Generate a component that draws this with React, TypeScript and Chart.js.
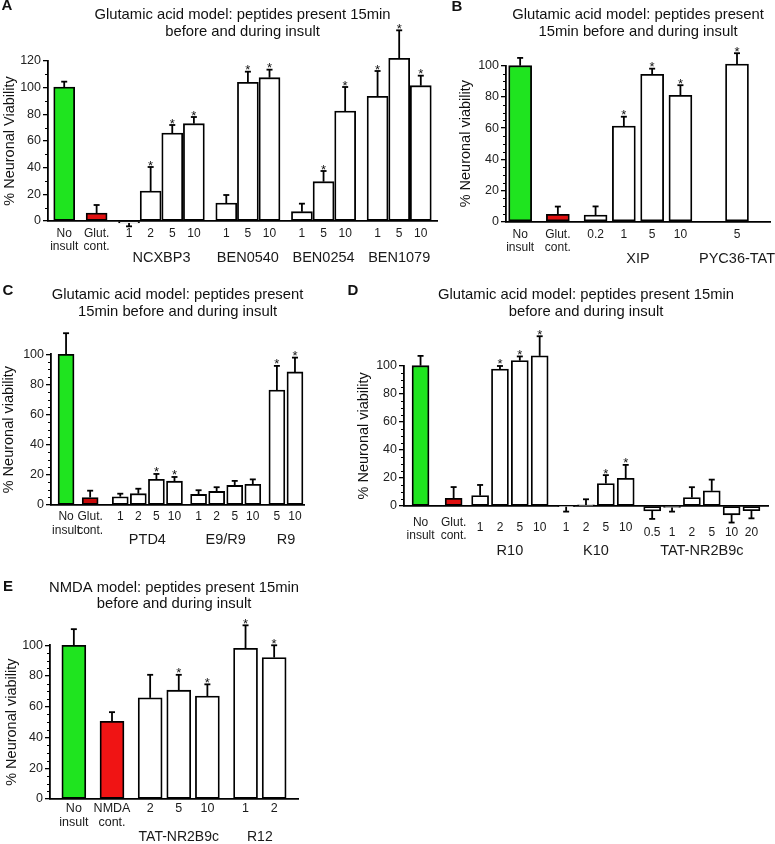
import React, { useEffect, useRef } from "react";
import { Chart, registerables } from "chart.js";
Chart.register(...registerables);

const FONT = '"Liberation Sans", Arial, Helvetica, sans-serif';

// ---------------- Panel A ----------------
const A_GROUP_NAMES = ["", "", "NCXBP3", "BEN0540", "BEN0254", "BEN1079"];
const A_GROUP_SIZES = [1, 1, 4, 3, 3, 3];
const A_TICKS = ["No\ninsult", "Glut.\ncont.", "1", "2", "5", "10", "1", "5", "10", "1", "5", "10", "1", "5", "10"];
const A_VALUES = [100.5, 6, -1.5, 22.5, 66, 73, 13.5, 104, 107.5, 7, 29.5, 82.5, 93.5, 122, 101.5];
const A_ERRORS = [4, 6, 2.5, 18, 6, 5, 6, 8, 6, 6, 8, 18, 19, 21, 7.5];
const A_STARS = [0, 0, 0, 1, 1, 1, 0, 1, 1, 0, 1, 1, 1, 1, 1];

// ---------------- Panel B ----------------
const B_GROUP_NAMES = ["", "", "XIP", "PYC36-TAT"];
const B_GROUP_SIZES = [1, 1, 4, 1];
const B_TICKS = ["No\ninsult", "Glut.\ncont.", "0.2", "1", "5", "10", "5"];
const B_VALUES = [100, 4.7, 4.3, 61.3, 94.5, 81, 101];
const B_ERRORS = [5, 5, 5.5, 6, 3.6, 6.5, 7];
const B_STARS = [0, 0, 0, 1, 1, 1, 1];

// ---------------- Panel C ----------------
const C_GROUP_NAMES = ["", "", "PTD4", "E9/R9", "R9"];
const C_GROUP_SIZES = [1, 1, 4, 4, 2];
const C_TICKS = ["No\ninsult", "Glut.\ncont.", "1", "2", "5", "10", "1", "2", "5", "10", "5", "10"];
const C_VALUES = [100, 5, 5.5, 7.5, 17, 15.8, 7, 9, 13, 13.7, 76.3, 88.3];
const C_ERRORS = [14, 4.5, 2, 3.3, 3.6, 2.8, 2.8, 2.8, 3, 3.3, 16, 9.5];
const C_STARS = [0, 0, 0, 0, 1, 1, 0, 0, 0, 0, 1, 1];

// ---------------- Panel D ----------------
const D_GROUP_NAMES = ["", "", "R10", "K10", "TAT-NR2B9c"];
const D_GROUP_SIZES = [1, 1, 4, 4, 6];
const D_TICKS = ["No\ninsult", "Glut.\ncont.", "1", "2", "5", "10", "1", "2", "5", "10", "0.5", "1", "2", "5", "10", "20"];
const D_VALUES = [100, 5.5, 7.4, 97.6, 103.6, 107, -0.5, 0.8, 16, 19.8, -3.5, -1, 6, 10.8, -6.3, -3.3];
const D_ERRORS = [7, 8, 7.6, 2.2, 3, 14, 3.5, 4, 6, 9.5, 5.7, 3, 7.4, 8, 5.5, 5.5];
const D_STARS = [0, 0, 0, 1, 1, 1, 0, 0, 1, 1, 0, 0, 0, 0, 0, 0];

// ---------------- Panel E ----------------
const E_GROUP_NAMES = ["", "", "TAT-NR2B9c", "R12"];
const E_GROUP_SIZES = [1, 1, 3, 2];
const E_TICKS = ["No\ninsult", "NMDA\ncont.", "2", "5", "10", "1", "2"];
const E_VALUES = [100, 50.5, 65.8, 70.8, 67, 98, 92];
const E_ERRORS = [10.5, 6, 15, 10, 7.6, 15, 8];
const E_STARS = [0, 0, 0, 1, 1, 1, 1];

const TITLE_GLU_A = ["Glutamic acid model: peptides present 15min", "before and during insult"];
const TITLE_GLU_B = ["Glutamic acid model: peptides present", "15min before and during insult"];
const TITLE_NMDA = ["NMDA model: peptides present 15min", "before and during insult"];

type PanelData = {
  groupNames: string[];
  groupSizes: number[];
  ticks: string[];
  values: number[];
  errors: number[];
  stars: number[];
};

type PanelLayout = {
  letter: string;
  letterPos: [number, number];
  title: string[];
  titleY: number[];
  yTitle: string;
  yTitleX: number;
  x0: number;
  x1: number;
  yTop: number;
  yBottom: number;
  yMax: number;
  major: number;
  minor: number;
  lead: number;
  step: number;
  gaps: number[];
  slots: number;
  barW: number;
  red: string;
  l1: number;
  l2: number;
  lg: number;
  tickDy: number[];
  tickFont: number;
  groupFont: number;
};

const PANELS: { data: PanelData; layout: PanelLayout }[] = [
  {
    data: { groupNames: A_GROUP_NAMES, groupSizes: A_GROUP_SIZES, ticks: A_TICKS, values: A_VALUES, errors: A_ERRORS, stars: A_STARS },
    layout: {
      letter: "A", letterPos: [7, 6], title: TITLE_GLU_A, titleY: [15, 32],
      yTitle: "% Neuronal Viability", yTitleX: 10,
      x0: 48, x1: 437, yTop: 61, yBottom: 221, yMax: 120, major: 20, minor: 10,
      lead: 1, step: 2, gaps: [3, 3, 3, 3, 3], slots: 36, barW: 21, red: "#e01010",
      l1: 13, l2: 26, lg: 37, tickDy: [0, 0, 0, 0, 0, 0], tickFont: 12, groupFont: 14.5,
    },
  },
  {
    data: { groupNames: B_GROUP_NAMES, groupSizes: B_GROUP_SIZES, ticks: B_TICKS, values: B_VALUES, errors: B_ERRORS, stars: B_STARS },
    layout: {
      letter: "B", letterPos: [457, 7], title: TITLE_GLU_B, titleY: [15, 32],
      yTitle: "% Neuronal viability", yTitleX: 466,
      x0: 506, x1: 770, yTop: 65.7, yBottom: 221.7, yMax: 100, major: 20, minor: 5,
      lead: 1, step: 3, gaps: [4, 4, 6], slots: 28, barW: 23, red: "#e01010",
      l1: 13, l2: 26, lg: 37, tickDy: [0, 0, 0, 0], tickFont: 12, groupFont: 14.5,
    },
  },
  {
    data: { groupNames: C_GROUP_NAMES, groupSizes: C_GROUP_SIZES, ticks: C_TICKS, values: C_VALUES, errors: C_ERRORS, stars: C_STARS },
    layout: {
      letter: "C", letterPos: [8, 291], title: TITLE_GLU_B, titleY: [295, 312],
      yTitle: "% Neuronal viability", yTitleX: 9,
      x0: 51, x1: 304, yTop: 354.3, yBottom: 505, yMax: 100, major: 20, minor: 5,
      lead: 2, step: 3, gaps: [4, 5, 4, 4], slots: 42, barW: 16, red: "#c80a0a",
      l1: 12, l2: 26, lg: 35, tickDy: [0, 0, 0, 0, 0], tickFont: 12, groupFont: 14.5,
    },
  },
  {
    data: { groupNames: D_GROUP_NAMES, groupSizes: D_GROUP_SIZES, ticks: D_TICKS, values: D_VALUES, errors: D_ERRORS, stars: D_STARS },
    layout: {
      letter: "D", letterPos: [353, 291], title: TITLE_GLU_A, titleY: [295, 312],
      yTitle: "% Neuronal viability", yTitleX: 364,
      x0: 404, x1: 768, yTop: 365.7, yBottom: 506, yMax: 100, major: 20, minor: 5,
      lead: 2, step: 3, gaps: [5, 4, 4, 4], slots: 55, barW: 17, red: "#e01010",
      l1: 17, l2: 30, lg: 45, tickDy: [0, 0, 5, 5, 10], tickFont: 12, groupFont: 14.5,
    },
  },
  {
    data: { groupNames: E_GROUP_NAMES, groupSizes: E_GROUP_SIZES, ticks: E_TICKS, values: E_VALUES, errors: E_ERRORS, stars: E_STARS },
    layout: {
      letter: "E", letterPos: [8, 587], title: TITLE_NMDA, titleY: [588, 604],
      yTitle: "% Neuronal viability", yTitleX: 12,
      x0: 50, x1: 298, yTop: 645.3, yBottom: 799, yMax: 100, major: 20, minor: 5,
      lead: 2, step: 3, gaps: [4, 4, 4], slots: 26, barW: 24, red: "#f01414",
      l1: 10, l2: 24, lg: 38, tickDy: [0, 0, 0, 0], tickFont: 12.5, groupFont: 14,
    },
  },
];

const W = 775;
const H = 844;
const Y_AXIS_W = 40;
const GREEN = "#1fe41f";

function PanelChart({ data, layout }: { data: PanelData; layout: PanelLayout }) {
  const ref = useRef<HTMLCanvasElement>(null);

  useEffect(() => {
    const canvas = ref.current;
    if (!canvas) return;

    // category index of every bar, built from the group structure
    const idx: number[] = [];
    const grp: number[] = [];
    let pos = layout.lead;
    data.groupSizes.forEach((n, g) => {
      if (g > 0) pos += layout.gaps[g - 1];
      for (let j = 0; j < n; j++) {
        if (j > 0) pos += layout.step;
        idx.push(pos);
        grp.push(g);
      }
    });

    const labels: string[] = Array(layout.slots).fill("");
    const vals: (number | null)[] = Array(layout.slots).fill(null);
    const bg: string[] = Array(layout.slots).fill("#ffffff");
    data.values.forEach((v, k) => {
      vals[idx[k]] = v;
      bg[idx[k]] = grp[k] === 0 ? GREEN : grp[k] === 1 ? layout.red : "#ffffff";
    });

    const overlay = {
      id: "overlay",
      afterDatasetsDraw(chart: any) {
        const ctx: CanvasRenderingContext2D = chart.ctx;
        const xs = chart.scales.x;
        const ys = chart.scales.y;
        const area = chart.chartArea;
        ctx.save();

        // minor ticks
        ctx.strokeStyle = "#000";
        ctx.lineWidth = 1;
        for (let v = 0; v <= layout.yMax + 1e-6; v += layout.minor) {
          if (Math.abs(v % layout.major) < 1e-6) continue;
          const y = Math.round(ys.getPixelForValue(v)) + 0.5;
          ctx.beginPath();
          ctx.moveTo(area.left - 3, y);
          ctx.lineTo(area.left, y);
          ctx.stroke();
        }

        // error bars + stars
        data.values.forEach((v, k) => {
          const x = xs.getPixelForValue(idx[k]);
          const dir = v >= 0 ? 1 : -1;
          const yv = ys.getPixelForValue(v);
          const ye = ys.getPixelForValue(v + dir * data.errors[k]);
          ctx.strokeStyle = "#000";
          ctx.lineWidth = 1.8;
          ctx.beginPath();
          ctx.moveTo(x, yv);
          ctx.lineTo(x, ye);
          ctx.stroke();
          ctx.beginPath();
          ctx.moveTo(x - 3, ye);
          ctx.lineTo(x + 3, ye);
          ctx.stroke();
          if (data.stars[k]) {
            ctx.fillStyle = "#111";
            ctx.font = `13px ${FONT}`;
            ctx.textAlign = "center";
            ctx.textBaseline = "alphabetic";
            ctx.fillText("*", x, ye + 2.5);
          }
        });

        // bar labels
        ctx.fillStyle = "#1a1a1a";
        ctx.textAlign = "center";
        ctx.textBaseline = "middle";
        ctx.font = `${layout.tickFont}px ${FONT}`;
        data.ticks.forEach((t, k) => {
          const x = xs.getPixelForValue(idx[k]);
          const lines = t.split("\n");
          ctx.fillText(lines[0], x, area.bottom + layout.l1 + layout.tickDy[grp[k]]);
          if (lines[1]) ctx.fillText(lines[1], x, area.bottom + layout.l2);
        });

        // group labels
        ctx.font = `${layout.groupFont}px ${FONT}`;
        data.groupNames.forEach((name, g) => {
          if (!name) return;
          const members = idx.filter((_, k) => grp[k] === g);
          const xa = xs.getPixelForValue(members[0]);
          const xb = xs.getPixelForValue(members[members.length - 1]);
          ctx.fillText(name, (xa + xb) / 2, area.bottom + layout.lg);
        });

        // title
        ctx.fillStyle = "#111";
        ctx.font = `14.8px ${FONT}`;
        const cx = (area.left + area.right) / 2;
        layout.title.forEach((line, i) => ctx.fillText(line, cx, layout.titleY[i]));

        // panel letter
        ctx.font = `bold 15px ${FONT}`;
        ctx.fillText(layout.letter, layout.letterPos[0], layout.letterPos[1]);

        // y title
        ctx.font = `14.5px ${FONT}`;
        ctx.translate(layout.yTitleX, (area.top + area.bottom) / 2);
        ctx.rotate(-Math.PI / 2);
        ctx.fillText(layout.yTitle, 0, 0);

        ctx.restore();
      },
    };

    const chart = new Chart(canvas, {
      type: "bar",
      data: {
        labels,
        datasets: [
          {
            data: vals,
            backgroundColor: bg,
            borderColor: "#000",
            borderWidth: 1.8,
            borderSkipped: false,
            barThickness: layout.barW,
            clip: false as any,
          } as any,
        ],
      },
      options: {
        animation: false,
        responsive: false,
        maintainAspectRatio: false,
        layout: {
          padding: {
            left: layout.x0 - Y_AXIS_W,
            right: W - layout.x1,
            top: layout.yTop,
            bottom: H - layout.yBottom,
          },
        },
        plugins: {
          legend: { display: false },
          tooltip: { enabled: false },
          title: { display: false },
        },
        scales: {
          x: {
            type: "category",
            offset: true,
            grid: { display: false },
            ticks: { display: false },
            border: { display: true, color: "#000", width: 1.8 },
            afterFit: (s: any) => {
              s.height = 0;
            },
          },
          y: {
            min: 0,
            max: layout.yMax,
            afterFit: (s: any) => {
              s.width = Y_AXIS_W;
            },
            ticks: {
              stepSize: layout.major,
              color: "#222",
              padding: 2,
              font: { family: FONT, size: 12.5 },
            },
            grid: {
              display: true,
              drawOnChartArea: false,
              drawTicks: true,
              tickLength: 5,
              color: "#000",
              lineWidth: 1.3,
            },
            border: { display: true, color: "#000", width: 1.8 },
          },
        },
      } as any,
      plugins: [overlay],
    });

    return () => chart.destroy();
  }, [data, layout]);

  return (
    <canvas
      ref={ref}
      width={W}
      height={H}
      style={{ position: "absolute", left: 0, top: 0, width: W, height: H }}
    />
  );
}

export default function App() {
  useEffect(() => {
    document.body.style.margin = "0";
  }, []);
  return (
    <div style={{ position: "absolute", left: 0, top: 0, width: W, height: H, background: "#fff" }}>
      {PANELS.map((p) => (
        <PanelChart key={p.layout.letter} data={p.data} layout={p.layout} />
      ))}
    </div>
  );
}
